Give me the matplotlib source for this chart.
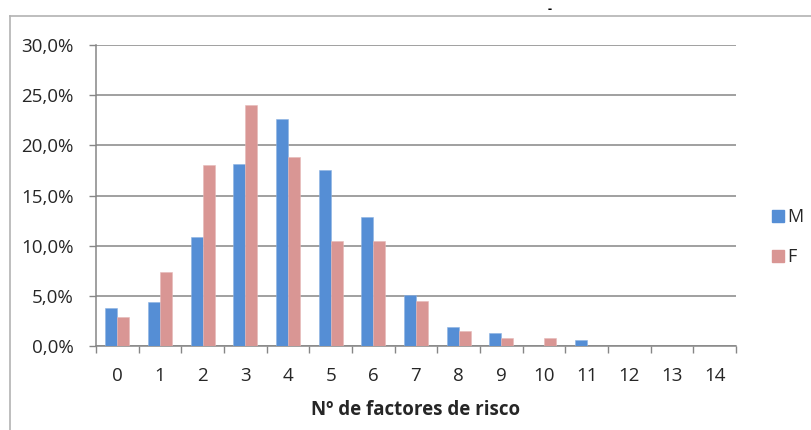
import numpy as np
import matplotlib
matplotlib.use("Agg")
import matplotlib.pyplot as plt
from matplotlib.ticker import FuncFormatter, FixedLocator
from matplotlib.lines import Line2D

plt.rcParams['font.family'] = ['Open Sans', 'DejaVu Sans']

# percent of people by number of risk factors
categories = [str(i) for i in range(15)]
m_vals = [3.8, 4.4, 10.9, 18.1, 22.65, 17.5, 12.9, 5.1, 1.9, 1.25, 0.0, 0.6, 0.0, 0.0, 0.0]
f_vals = [2.9, 7.4, 18.0, 24.0, 18.8, 10.5, 10.5, 4.45, 1.45, 0.75, 0.75, 0.0, 0.0, 0.0, 0.0]
series_names = ['M', 'F']
colors = ['#558ED5', '#D99694']
grid_col = '#868686'
txt_col = '#262626'

fig = plt.figure(figsize=(8.12, 4.30), dpi=100)
ax = fig.add_axes([96/812, 1 - 346/430, 640/812, 301/430])

x = np.arange(len(categories))
w = 0.28
ax.bar(x - w/2, m_vals, w, color=colors[0], edgecolor='#8DB3E2', linewidth=0.4, zorder=3)
ax.bar(x + w/2, f_vals, w, color=colors[1], edgecolor='#E6B9B8', linewidth=0.4, zorder=3)

ax.set_xlim(-0.5, len(categories) - 0.5)
ax.set_ylim(0, 30)
ax.set_yticks(np.arange(0, 31, 5))
ax.yaxis.set_major_formatter(FuncFormatter(lambda v, p: f"{v:.1f}%".replace('.', ',')))
ax.yaxis.grid(True, color=grid_col, linewidth=1.1, zorder=0)

# ticks between categories, labels at centres
ax.xaxis.set_major_locator(FixedLocator(np.arange(-0.5, len(categories), 1.0)))
ax.xaxis.set_major_formatter(FuncFormatter(lambda v, p: ''))
ax.xaxis.set_minor_locator(FixedLocator(x))
ax.set_xticklabels(categories, minor=True)
ax.tick_params(axis='x', which='major', direction='out', length=5, color=grid_col, width=1)
ax.tick_params(axis='x', which='minor', length=0, pad=15, labelsize=13.5, labelcolor=txt_col)
ax.tick_params(axis='y', direction='out', length=5, color=grid_col, width=1,
               pad=11, labelsize=13.5, labelcolor=txt_col)

for s in ['top', 'right']:
    ax.spines[s].set_visible(False)
for s in ['left', 'bottom']:
    ax.spines[s].set_color(grid_col)
    ax.spines[s].set_linewidth(1.1)

ax.set_xlabel('Nº de factores de risco', fontsize=13.5, fontweight='bold',
              color=txt_col, labelpad=11)

handles = [Line2D([], [], marker='s', linestyle='', markersize=8, color=c) for c in colors]
fig.legend(handles, series_names, loc='center left', bbox_to_anchor=(760/812, 1 - 237/430),
           frameon=False, fontsize=13, handletextpad=0.0, labelspacing=1.2,
           handlelength=1.0, borderpad=0, labelcolor=txt_col)

# chart frame remnants
fig.add_artist(Line2D([10/812, 1.0], [1 - 15.7/430] * 2, color='#b3b3b3', linewidth=1.2))
fig.add_artist(Line2D([10/812] * 2, [0, 1 - 15.7/430], color='#b3b3b3', linewidth=1.2))
fig.text(550/812, 1 - 9/430, '-', fontsize=9, ha='center', va='center', fontweight='bold')

fig.savefig('out.png', dpi=100)
